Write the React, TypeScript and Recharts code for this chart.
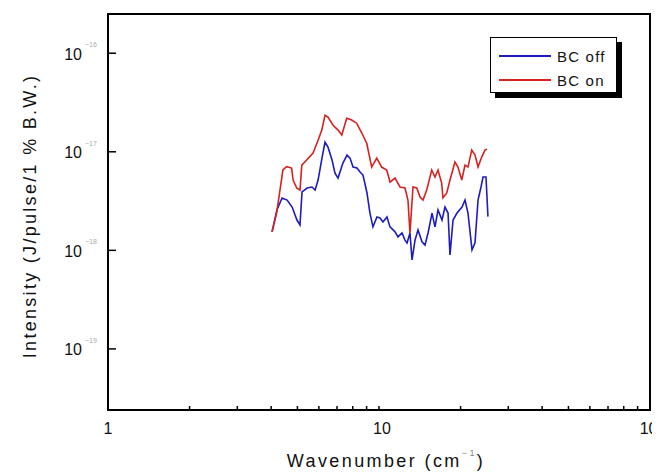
import React from 'react';
import { LineChart, Line, XAxis, YAxis, ReferenceArea, Legend } from 'recharts';

// BC off spectrum (blue)
const offWavenumber = [4.03, 4.2, 4.39, 4.58, 4.78, 4.98, 5.11, 5.2, 5.43, 5.66, 5.81, 5.96, 6.16, 6.32, 6.48, 6.71, 6.88, 7.06, 7.36, 7.62, 7.82, 8.02, 8.29, 8.51, 8.73, 9.03, 9.26, 9.5, 9.83, 10.09, 10.34, 10.7, 10.98, 11.46, 11.75, 12.16, 12.47, 12.69, 13.01, 13.24, 13.58, 13.93, 14.41, 14.78, 15.17, 15.69, 16.09, 16.51, 17.08, 17.52, 17.98, 18.28, 18.76, 19.4, 20.25, 20.77, 21.3, 22.04, 22.61, 23.2, 23.79, 24.2, 24.82, 25.24];
const offIntensity = [1.54e-18, 2.57e-18, 3.4e-18, 3.24e-18, 2.75e-18, 2.03e-18, 1.81e-18, 3.91e-18, 4.29e-18, 4.39e-18, 4.09e-18, 5.17e-18, 8.63e-18, 1.25e-17, 1.12e-17, 8.24e-18, 6.08e-18, 5.41e-18, 7.69e-18, 9.26e-18, 8.63e-18, 7.0e-18, 6.84e-18, 6.23e-18, 5.81e-18, 3.82e-18, 2.39e-18, 1.73e-18, 2.18e-18, 2.13e-18, 1.94e-18, 2.18e-18, 1.73e-18, 1.54e-18, 1.37e-18, 1.5e-18, 1.27e-18, 1.19e-18, 1.5e-18, 8.0e-19, 1.27e-18, 1.61e-18, 1.22e-18, 1.13e-18, 1.5e-18, 2.39e-18, 1.73e-18, 2.57e-18, 2.03e-18, 2.75e-18, 2.39e-18, 8.98e-19, 2.03e-18, 2.39e-18, 2.75e-18, 3.24e-18, 2.39e-18, 1.01e-18, 1.19e-18, 3.24e-18, 4.39e-18, 5.54e-18, 5.54e-18, 2.2e-18];

// BC on spectrum (red)
const onWavenumber = [4.03, 4.19, 4.42, 4.56, 4.76, 4.82, 4.97, 5.11, 5.19, 5.41, 5.71, 5.96, 6.15, 6.32, 6.48, 6.77, 7.06, 7.29, 7.6, 7.93, 8.27, 8.64, 9.01, 9.4, 9.81, 10.23, 10.68, 10.98, 11.46, 11.96, 12.47, 12.79, 13.01, 13.35, 13.78, 14.17, 14.54, 15.0, 15.65, 16.09, 16.51, 17.03, 17.22, 17.78, 18.28, 19.07, 19.56, 20.2, 20.77, 21.3, 21.99, 22.61, 23.2, 23.93, 24.61, 25.03];
const onIntensity = [1.54e-18, 2.39e-18, 6.53e-18, 7.05e-18, 6.84e-18, 5.17e-18, 4.29e-18, 4.09e-18, 7.33e-18, 8.24e-18, 9.7e-18, 1.31e-17, 1.66e-17, 2.35e-17, 2.25e-17, 1.86e-17, 1.66e-17, 1.48e-17, 2.19e-17, 2.1e-17, 1.95e-17, 1.55e-17, 1.22e-17, 7.0e-18, 8.63e-18, 7.0e-18, 6.53e-18, 4.93e-18, 5.41e-18, 4.39e-18, 4.29e-18, 3.24e-18, 1.5e-18, 4.39e-18, 4.29e-18, 3.48e-18, 3.24e-18, 4.09e-18, 6.53e-18, 5.54e-18, 6.53e-18, 4.82e-18, 3.4e-18, 3.82e-18, 5.17e-18, 7.86e-18, 7.0e-18, 5.17e-18, 7.33e-18, 7.0e-18, 1.04e-17, 9.26e-18, 7.0e-18, 8.84e-18, 1.04e-17, 1.065e-17];

const xDomain = [1, 100];
const yDomain = [2.4e-20, 2.5e-16];
const xTicks = [1, 2, 3, 4, 5, 6, 7, 8, 9, 10, 20, 30, 40, 50, 60, 70, 80, 90, 100];
const xLabeledTicks = [1, 10, 100];
const yMajorTicks = [1e-16, 1e-17, 1e-18, 1e-19];
const yMinorTicks = [
  3e-20, 4e-20, 5e-20, 6e-20, 7e-20, 8e-20, 9e-20, 1e-19,
  2e-19, 3e-19, 4e-19, 5e-19, 6e-19, 7e-19, 8e-19, 9e-19, 1e-18,
  2e-18, 3e-18, 4e-18, 5e-18, 6e-18, 7e-18, 8e-18, 9e-18, 1e-17,
  2e-17, 3e-17, 4e-17, 5e-17, 6e-17, 7e-17, 8e-17, 9e-17, 1e-16, 2e-16,
];

const offData = offWavenumber.map((w, i) => ({ w, v: offIntensity[i] }));
const onData = onWavenumber.map((w, i) => ({ w, v: onIntensity[i] }));

const FONT = '"Liberation Sans", Arial, sans-serif';
const BLUE = '#1c1cc0';
const RED = '#d8201e';

const XTick = (props: any) => {
  const { x, y, payload } = props;
  const v = payload.value;
  const labeled = xLabeledTicks.includes(v);
  return (
    <g>
      {v !== 1 && v !== 100 && (
        <line x1={x} x2={x} y1={y} y2={y - 4} stroke="#000" strokeWidth={1.5} />
      )}
      {labeled && (
        <text x={v === 1 ? x : x + 3} y={y + 18} textAnchor="middle" dominantBaseline="central" fontSize={16} fontFamily={FONT} fill="#111">
          {String(v)}
        </text>
      )}
    </g>
  );
};

const YTickLeft = (props: any) => {
  const { x, y, payload } = props;
  const exp = Math.round(Math.log10(payload.value));
  return (
    <g>
      <line x1={x} x2={x + 8} y1={y} y2={y} stroke="#000" strokeWidth={1.5} />
      <text x={x - 26} y={y + 1} textAnchor="end" dominantBaseline="central" fontSize={16} fontFamily={FONT} fill="#111">
        10
      </text>
      <text x={x - 23} y={y - 6} textAnchor="start" fontSize={7} fontFamily={FONT} fill="#aaa">
        {'\u2212' + String(-exp)}
      </text>
    </g>
  );
};

const YTickRight = (props: any) => {
  const { x, y } = props;
  return <line x1={x} x2={x - 4} y1={y} y2={y} stroke="#000" strokeWidth={1.5} />;
};

const XAxisTitle = (props: any) => {
  const { viewBox } = props;
  const cx = viewBox.x + 278;
  const cy = viewBox.y + 51;
  return (
    <text x={cx} y={cy} textAnchor="middle" dominantBaseline="central" fontSize={18} fontFamily={FONT} fill="#111" letterSpacing={2.4}>
      Wavenumber (cm
      <tspan dy={-8} fontSize={9} fill="#888">{'\u22121'}</tspan>
      <tspan dy={8}>)</tspan>
    </text>
  );
};

const YAxisTitle = (props: any) => {
  const { viewBox } = props;
  const cx = viewBox.x + 22;
  const cy = 208;
  return (
    <text
      x={cx}
      y={cy}
      transform={`rotate(-90, ${cx}, ${cy})`}
      textAnchor="middle"
      dominantBaseline="central"
      fontSize={18}
      fontFamily={FONT}
      fill="#111"
      letterSpacing={2.3}
    >
      Intensity (J/pulse/1 % B.W.)
    </text>
  );
};

const LegendBox = (props: any) => {
  const { payload } = props;
  return (
    <div
      style={{
        width: 127,
        height: 56,
        border: '1.5px solid #000',
        background: '#fff',
        boxShadow: '5px 5px 0 #000',
        padding: '6px 0 0 8px',
        boxSizing: 'border-box',
        fontFamily: FONT,
        fontSize: 15,
        letterSpacing: 1.2,
        color: '#111',
      }}
    >
      {(payload || []).map((p: any) => (
        <div key={p.value} style={{ display: 'flex', alignItems: 'center', height: 24 }}>
          <svg width={52} height={10} style={{ marginRight: 6 }}>
            <line x1={0} x2={52} y1={5} y2={5} stroke={p.color} strokeWidth={2} />
          </svg>
          <span>{p.value}</span>
        </div>
      ))}
    </div>
  );
};

export default function App() {
  return (
    <LineChart width={652} height={465} margin={{ top: 6, right: 10, left: 0, bottom: 0 }}>
      <XAxis
        dataKey="w"
        type="number"
        scale="log"
        domain={xDomain}
        allowDataOverflow
        ticks={xTicks}
        interval={0}
        tickSize={0}
        tickMargin={0}
        tickLine={false}
        axisLine={false}
        tick={<XTick />}
        height={63}
        label={<XAxisTitle />}
      />
      <YAxis
        yAxisId="l"
        type="number"
        scale="log"
        domain={yDomain}
        allowDataOverflow
        ticks={yMajorTicks}
        interval={0}
        tickSize={0}
        tickMargin={0}
        tickLine={false}
        axisLine={false}
        tick={<YTickLeft />}
        width={100}
        label={<YAxisTitle />}
      />
      <YAxis
        yAxisId="r"
        orientation="right"
        type="number"
        scale="log"
        domain={yDomain}
        allowDataOverflow
        ticks={yMinorTicks}
        interval={0}
        tickSize={0}
        tickMargin={0}
        tickLine={false}
        axisLine={false}
        tick={<YTickRight />}
        width={0}
      />
      <Line
        yAxisId="l"
        data={offData}
        dataKey="v"
        name="BC off"
        stroke={BLUE}
        strokeWidth={1.6}
        dot={false}
        isAnimationActive={false}
      />
      <Line
        yAxisId="l"
        data={onData}
        dataKey="v"
        name="BC on"
        stroke={RED}
        strokeWidth={1.6}
        dot={false}
        isAnimationActive={false}
      />
      <ReferenceArea
        yAxisId="l"
        x1={xDomain[0]}
        x2={xDomain[1]}
        y1={yDomain[0]}
        y2={yDomain[1]}
        fill="none"
        stroke="#000"
        strokeWidth={2}
        ifOverflow="visible"
      />
      <Legend
        verticalAlign="middle"
        align="center"
        layout="horizontal"
        content={<LegendBox />}
        wrapperStyle={{ position: 'absolute', left: 482, top: 29, width: 'auto' }}
      />
    </LineChart>
  );
}
